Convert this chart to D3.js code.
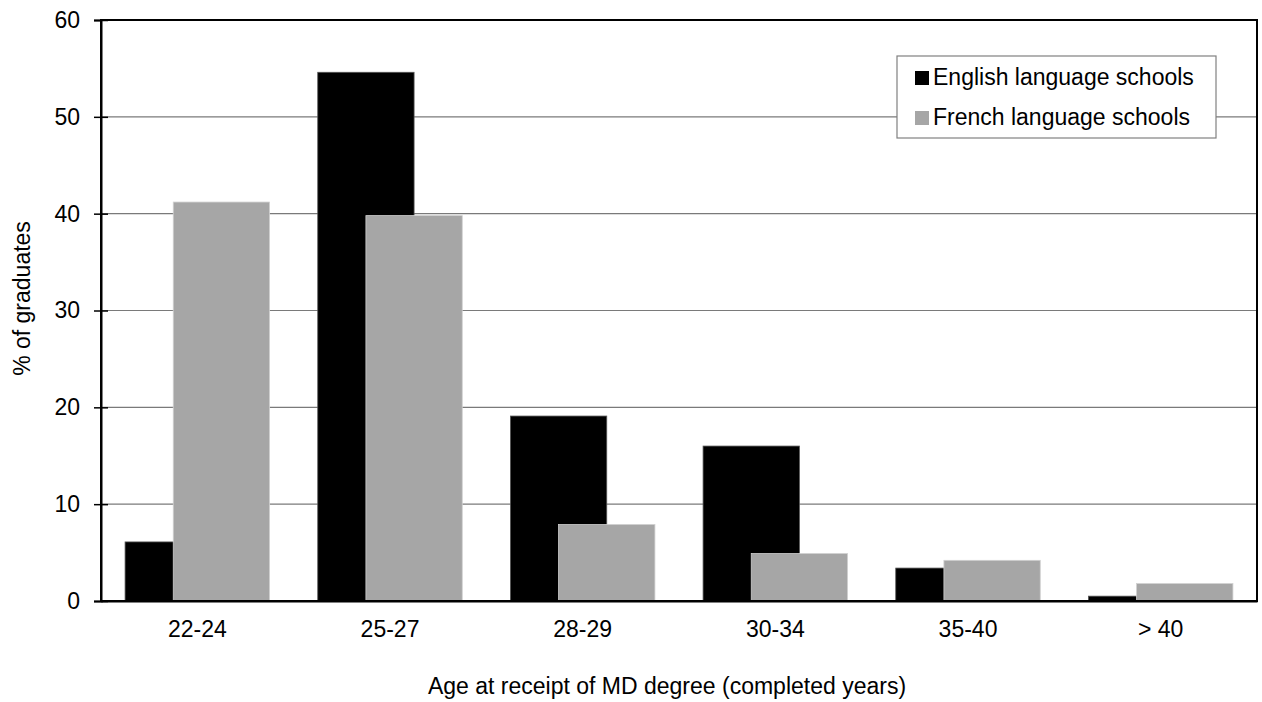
<!DOCTYPE html>
<html>
<head>
<meta charset="utf-8">
<script src="https://cdn.jsdelivr.net/npm/d3@7/dist/d3.min.js"></script>
<style>
  body { margin: 0; background: #fff; }
  svg { display: block; font-family: "Liberation Sans", Arial, sans-serif; }
</style>
</head>
<body>
<svg id="chart" width="1262" height="702"></svg>
<script>
const categories = ["22-24", "25-27", "28-29", "30-34", "35-40", "> 40"];
const englishValues = [6.1, 54.6, 19.1, 16.0, 3.4, 0.5];
const frenchValues = [41.2, 39.8, 7.9, 4.9, 4.2, 1.8];
const seriesNames = ["English language schools", "French language schools"];
const yTicks = [0, 10, 20, 30, 40, 50, 60];

const svg = d3.select("#chart");
const margin = { left: 101, right: 1257, top: 20, bottom: 601 };
const fontSize = 23;

const x = d3.scaleBand().domain(categories).range([margin.left, margin.right]).padding(0);
const y = d3.scaleLinear().domain([0, 60]).range([margin.bottom, margin.top]);
const barW = x.bandwidth() / 2;

// gridlines
svg.append("g").selectAll("line").data(yTicks.filter(d => d > 0 && d < 60)).join("line")
  .attr("x1", margin.left).attr("x2", margin.right)
  .attr("y1", d => y(d)).attr("y2", d => y(d))
  .attr("stroke", "#7a7a7a").attr("stroke-width", 1.2);

// bars
const series = [
  { name: seriesNames[0], values: englishValues, color: "#000000", stroke: "#555", offset: -0.75 },
  { name: seriesNames[1], values: frenchValues, color: "#a6a6a6", stroke: "#d0d0d0", offset: -0.25 }
];
series.forEach(s => {
  svg.append("g").selectAll("rect").data(categories).join("rect")
    .attr("x", (c) => x(c) + x.bandwidth() / 2 + s.offset * barW)
    .attr("width", barW)
    .attr("y", (c, i) => y(s.values[i]))
    .attr("height", (c, i) => y(0) - y(s.values[i]))
    .attr("fill", s.color)
    .attr("stroke", s.stroke).attr("stroke-width", 0.8);
});

// frame
svg.append("rect")
  .attr("x", margin.left).attr("y", margin.top)
  .attr("width", margin.right - margin.left).attr("height", margin.bottom - margin.top)
  .attr("fill", "none").attr("stroke", "#000").attr("stroke-width", 2);

// y axis
const yAxis = svg.append("g").attr("transform", `translate(${margin.left},0)`)
  .call(d3.axisLeft(y).tickValues(yTicks).tickSize(7).tickPadding(14).tickFormat(d3.format("d")));
yAxis.select(".domain").attr("stroke", "#000").attr("stroke-width", 2);
yAxis.selectAll(".tick line").attr("x1", 7).attr("stroke", "#000").attr("stroke-width", 1.5);
yAxis.selectAll(".tick text").attr("font-size", fontSize).attr("fill", "#000")
  .attr("font-family", "Liberation Sans, Arial, sans-serif");

// x axis
const xAxis = svg.append("g").attr("transform", `translate(0,${margin.bottom})`)
  .call(d3.axisBottom(x).tickSize(0).tickPadding(0));
xAxis.select(".domain").attr("stroke", "#000").attr("stroke-width", 2);
xAxis.selectAll(".tick text").attr("font-size", fontSize).attr("fill", "#000")
  .attr("font-family", "Liberation Sans, Arial, sans-serif")
  .attr("y", 36).attr("dy", 0);

// axis titles
svg.append("text")
  .attr("x", (margin.left + margin.right) / 2 - 12).attr("y", 694)
  .attr("text-anchor", "middle").attr("font-size", fontSize)
  .text("Age at receipt of MD degree (completed years)");
svg.append("text")
  .attr("transform", `translate(30,${(margin.top + margin.bottom) / 2 - 12}) rotate(-90)`)
  .attr("text-anchor", "middle").attr("font-size", fontSize)
  .text("% of graduates");

// legend
const lg = svg.append("g").attr("transform", "translate(897,56)");
lg.append("rect").attr("width", 319).attr("height", 82)
  .attr("fill", "#fff").attr("stroke", "#808080").attr("stroke-width", 1.2);
series.forEach((s, i) => {
  const row = lg.append("g").attr("transform", `translate(0,${21 + i * 40})`);
  row.append("rect").attr("x", 18).attr("y", -6).attr("width", 14).attr("height", 14)
    .attr("fill", s.color);
  row.append("text").attr("x", 36).attr("y", 8).attr("font-size", fontSize).text(s.name);
});
</script>
</body>
</html>
